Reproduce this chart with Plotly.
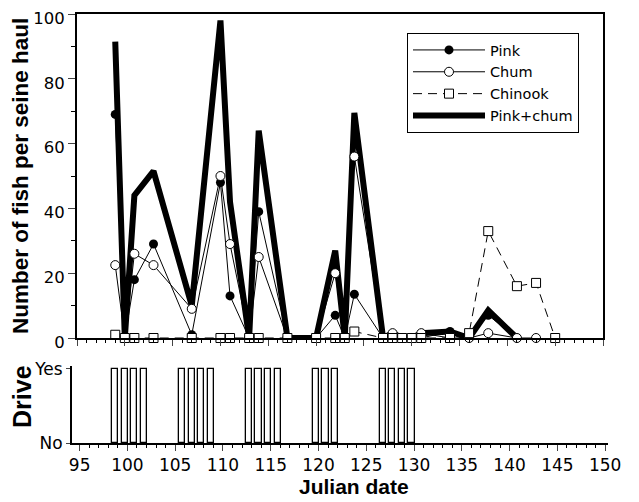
import plotly.graph_objects as go

# Julian dates sampled, and catch per seine haul
pink_days = [99, 100, 101, 103, 107, 110, 111, 113, 114, 117, 120, 122, 123, 124,
             127, 128, 129, 130, 131, 134, 136, 138, 141]
pink = [69, 0, 18, 29, 1, 48, 13, 0, 39, 0, 0, 7, 0, 13.5,
        0, 0, 0, 0, 0, 2, 0, 7, 0]

chum_days = [99, 100, 101, 103, 107, 110, 111, 113, 114, 117, 120, 122, 123, 124,
             127, 128, 129, 130, 131, 134, 136, 138, 141, 143]
chum = [22.5, 0, 26, 22.5, 9, 50, 29, 0, 25, 0, 0, 20, 0, 56,
        0, 1.5, 0, 0, 1.5, 0, 0, 1.5, 0, 0]

chinook_days = [99, 100, 101, 103, 107, 110, 111, 113, 114, 117, 120, 122, 123, 124,
                127, 128, 129, 130, 131, 134, 136, 138, 141, 143, 145]
chinook = [1, 0, 0, 0, 0, 0, 0, 0, 0, 0, 0, 0, 0, 2,
           0, 0, 0, 0, 0, 0, 1.5, 33, 16, 17, 0]

pinkchum_days = [99, 100, 101, 103, 107, 110, 111, 113, 114, 117, 120, 122, 123, 124,
                 127, 128, 129, 130, 131, 134, 136, 138, 141]
pinkchum = [91.5, 0, 44, 51.5, 10, 98, 42, 0, 64, 0, 0, 27, 0, 69.5,
            0, 1.5, 0, 0, 1.5, 2, 0, 8.5, 0]

# days with a drive (Yes)
drive_days = [99, 100, 101, 102, 106, 107, 108, 109, 113, 114, 115, 116,
              120, 121, 122, 127, 128, 129, 130]
drive = [1] * len(drive_days)

# the page body has an 8px margin, so lay out in window pixels minus 8
OFF = 8
W, H = 639 - OFF, 502 - OFF
FONT = "DejaVu Sans"
BOLD = "Liberation Sans"


def fx(px):
    return (px - OFF) / W


def fy(py):
    return (H - (py - OFF)) / H


fig = go.Figure()

# pink+chum first so the markers sit on top of it
fig.add_trace(go.Scatter(x=pinkchum_days, y=pinkchum, mode="lines", name="Pink+chum",
                         line=dict(color="black", width=6), legendrank=4,
                         cliponaxis=False))
fig.add_trace(go.Scatter(x=pink_days, y=pink, mode="lines+markers", name="Pink",
                         line=dict(color="black", width=1),
                         marker=dict(symbol="circle", size=9, color="black"),
                         legendrank=1, cliponaxis=False))
fig.add_trace(go.Scatter(x=chum_days, y=chum, mode="lines+markers", name="Chum",
                         line=dict(color="black", width=1),
                         marker=dict(symbol="circle", size=9, color="white",
                                     line=dict(color="black", width=1)),
                         legendrank=2, cliponaxis=False))
fig.add_trace(go.Scatter(x=chinook_days, y=chinook, mode="lines+markers", name="Chinook",
                         line=dict(color="black", width=1, dash="9px,6px"),
                         marker=dict(symbol="square", size=9, color="white",
                                     line=dict(color="black", width=1)),
                         legendrank=3, cliponaxis=False))

fig.add_trace(go.Bar(x=drive_days, y=drive, width=0.65, offset=-0.6,
                     marker=dict(color="white", line=dict(color="black", width=1.3)),
                     xaxis="x2", yaxis="y2", showlegend=False))

tick_font = dict(family=FONT, size=17, color="black")

fig.update_layout(
    width=W, height=H,
    margin=dict(l=0, r=0, t=0, b=0),
    plot_bgcolor="white", paper_bgcolor="white",
    bargap=0,
    xaxis=dict(domain=[fx(77), fx(603)], range=[95, 150], showline=True, linewidth=2,
               linecolor="black", mirror=True, ticks="outside", ticklen=6, tickwidth=1,
               tick0=95, dtick=5, showticklabels=False, showgrid=False, zeroline=False,
               automargin=False,
               minor=dict(dtick=1, ticks="outside", ticklen=3, tickcolor="black")),
    yaxis=dict(domain=[fy(338), fy(14)], range=[0, 100], showline=True,
               linewidth=2, linecolor="black", mirror=True, ticks="outside", ticklen=7,
               dtick=20, tickfont=dict(family=FONT, size=16.5, color="black"),
               ticklabelshift=4, showgrid=False, zeroline=False,
               automargin=False, ticklabeloverflow="allow",
               minor=dict(dtick=10, ticks="outside", ticklen=4, tickcolor="black")),
    xaxis2=dict(domain=[fx(72), fx(608)], range=[94.2, 150.3], anchor="y2", showline=True,
                linewidth=2, linecolor="black", ticks="outside", ticklen=6, tick0=95,
                dtick=5, tickfont=tick_font, showgrid=False, zeroline=False,
                automargin=False, ticklabeloverflow="allow",
                minor=dict(dtick=1, ticks="outside", ticklen=3, tickcolor="black")),
    yaxis2=dict(domain=[fy(443), fy(366)], range=[0, 1.04], anchor="x2",
                showline=True, linewidth=2, linecolor="black", ticks="outside", ticklen=4,
                tickvals=[0, 1], ticktext=["No", "Yes"], tickfont=tick_font,
                showgrid=False, zeroline=False, automargin=False),
    legend=dict(x=fx(407), y=fy(33), xanchor="left", yanchor="top",
                bgcolor="white", bordercolor="black", borderwidth=1, itemwidth=72,
                font=dict(family=FONT, size=14.5, color="black"), tracegroupgap=0),
    annotations=[
        dict(text="<b>Number of fish per seine haul</b>", x=fx(20), y=fy(176),
             xref="paper", yref="paper", xanchor="center", yanchor="middle",
             textangle=-90, showarrow=False,
             font=dict(family=BOLD, size=22.5, color="black")),
        dict(text="<b>Drive</b>", x=fx(22), y=fy(397), xref="paper", yref="paper",
             xanchor="center", yanchor="middle", textangle=-90, showarrow=False,
             font=dict(family=BOLD, size=25, color="black")),
        dict(text="<b>Julian date</b>", x=fx(354), y=fy(486), xref="paper",
             yref="paper", xanchor="center", yanchor="middle", showarrow=False,
             font=dict(family=BOLD, size=21, color="black")),
    ],
)

fig.write_html("out.html")
